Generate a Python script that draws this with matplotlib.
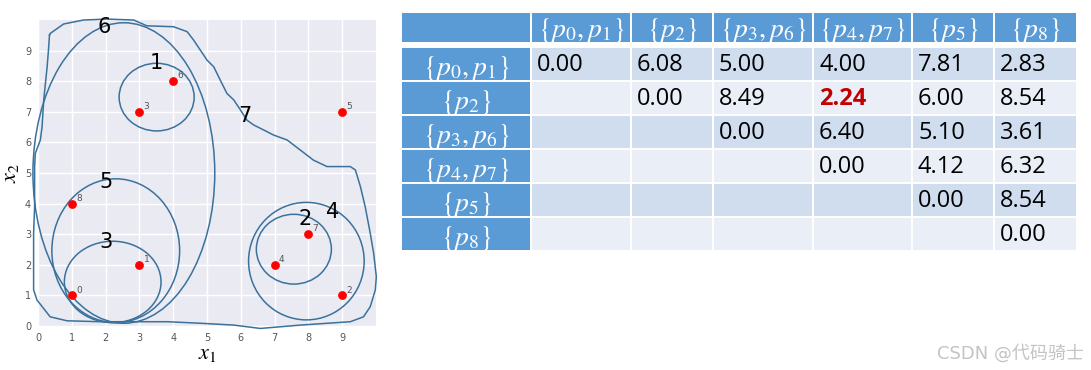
import matplotlib
matplotlib.use("Agg")
import matplotlib.pyplot as plt
from matplotlib.patches import Ellipse, Rectangle

# ---------------- data ----------------
pt_x = [1, 3, 9, 3, 7, 9, 4, 8, 1]
pt_y = [1, 2, 1, 7, 2, 7, 8, 3, 4]
pt_ids = ["0", "1", "2", "3", "4", "5", "6", "7", "8"]

# hand-drawn cluster ellipses: (label, cx, cy, width, height)
ell_names = ["1", "2", "3", "4", "5", "6"]
ell_cx = [3.51, 7.57, 2.21, 7.94, 2.30, 2.54]
ell_cy = [7.48, 2.51, 1.44, 2.12, 2.46, 5.00]
ell_w = [2.22, 2.22, 2.86, 3.42, 3.78, 5.38]
ell_h = [2.21, 2.28, 2.66, 3.84, 4.70, 9.82]
ell_lab_x = [3.49, 7.91, 2.02, 8.73, 2.02, 1.97]
ell_lab_y = [8.58, 3.50, 2.73, 3.72, 4.71, 9.76]

# freeform outline of cluster 7
c7_x = [0.34, 0.36, 0.76, 1.35, 2.04, 2.83, 3.22, 4.01, 4.41, 4.60, 4.80, 5.00,
        5.20, 5.39, 5.59, 5.79, 5.99, 6.18, 6.38, 6.67, 6.97, 7.37, 7.76, 8.15,
        8.55, 8.94, 9.24, 9.39, 9.54, 9.68, 9.83, 9.93, 10.01, 9.98, 9.83, 9.63,
        9.24, 7.76, 6.58, 5.79, 4.80, 3.82, 2.83, 1.84, 0.86, 0.36, -0.03, -0.13,
        -0.13, -0.10, -0.10, -0.08, 0.07, 0.12, 0.17, 0.27, 0.31, 0.34]
c7_y = [9.51, 9.56, 9.87, 10.00, 10.03, 10.00, 9.81, 9.78, 9.62, 9.35, 9.02, 8.69,
        8.47, 8.04, 7.60, 7.39, 7.06, 6.73, 6.57, 6.41, 6.24, 6.08, 5.75, 5.42,
        5.21, 5.21, 5.21, 5.10, 4.55, 3.90, 3.03, 2.38, 1.61, 1.18, 0.63, 0.30,
        0.14, 0.03, -0.08, 0.03, 0.09, 0.14, 0.14, 0.14, 0.17, 0.30, 0.85, 1.18,
        3.03, 3.90, 5.21, 5.64, 6.08, 6.51, 7.39, 8.47, 9.02, 9.51]
c7_label = "7"
c7_lab_x, c7_lab_y = 6.11, 6.87

# distance table
table_labels = [r"$\{p_0,p_1\}$", r"$\{p_2\}$", r"$\{p_3,p_6\}$",
                r"$\{p_4,p_7\}$", r"$\{p_5\}$", r"$\{p_8\}$"]
dist = [
    [0.00, 6.08, 5.00, 4.00, 7.81, 2.83],
    [None, 0.00, 8.49, 2.24, 6.00, 8.54],
    [None, None, 0.00, 6.40, 5.10, 3.61],
    [None, None, None, 0.00, 4.12, 6.32],
    [None, None, None, None, 0.00, 8.54],
    [None, None, None, None, None, 0.00],
]
highlight = (1, 3)

# ---------------- style ----------------
W, H = 1091, 370
plt.rcParams["mathtext.fontset"] = "stix"
fig = plt.figure(figsize=(W / 100, H / 100), dpi=100)
fig.patch.set_facecolor("white")

line_col = "#3a729c"

# ---------------- scatter panel ----------------
ax = fig.add_axes([38 / W, 1 - 326 / H, 338 / W, 306 / H])
ax.set_facecolor("#EAEAF2")
ax.set_xlim(0, 10)
ax.set_ylim(0, 10)
ax.set_xticks(range(10))
ax.set_yticks(range(10))
ax.grid(True, color="white", linewidth=1.0)
ax.set_axisbelow(True)
for s in ax.spines.values():
    s.set_visible(False)
ax.tick_params(length=0, labelsize=7, labelcolor="#555555", pad=5)
ax.set_xlabel(r"$x_1$", fontsize=16, labelpad=1)
ax.set_ylabel(r"$x_2$", fontsize=16, labelpad=3)

for i in range(len(ell_names)):
    e = Ellipse((ell_cx[i], ell_cy[i]), ell_w[i], ell_h[i], fill=False,
                edgecolor=line_col, linewidth=1.1, clip_on=False, zorder=3)
    ax.add_patch(e)
    ax.text(ell_lab_x[i], ell_lab_y[i], ell_names[i], fontsize=15,
            ha="center", va="center", color="black", zorder=5)

ax.plot(c7_x, c7_y, color=line_col, linewidth=1.1, clip_on=False, zorder=3)
ax.text(c7_lab_x, c7_lab_y, c7_label, fontsize=15, ha="center", va="center",
        color="black", zorder=5)

ax.scatter(pt_x, pt_y, s=28, color="red", zorder=6, clip_on=False)
for x, y, t in zip(pt_x, pt_y, pt_ids):
    ax.annotate(t, (x, y), xytext=(3, 2), textcoords="offset points",
                fontsize=6.5, color="#555555", zorder=7)

# ---------------- table panel ----------------
col_w = [130, 100, 82, 100, 99, 82, 83]
head_h = 31.3
row_h = 34.0
head_gap = 4.0
tot_w = sum(col_w)
tot_h = head_h + head_gap + row_h * len(dist)

tx0, ty0 = 401, 12
tax = fig.add_axes([tx0 / W, 1 - (ty0 + tot_h) / H, tot_w / W, tot_h / H])
tax.set_xlim(0, tot_w)
tax.set_ylim(tot_h, 0)
tax.axis("off")

hdr_col = "#5B9BD5"
row_cols = ["#CFDDEE", "#E9EEF7"]
edge_lw = 1.4

col_x = [sum(col_w[:i]) for i in range(len(col_w))]

# header row
for j in range(len(col_w)):
    tax.add_patch(Rectangle((col_x[j], 0), col_w[j], head_h, facecolor=hdr_col,
                            edgecolor="white", linewidth=edge_lw))
    if j > 0:
        tax.text(col_x[j] + col_w[j] / 2, head_h + 2, table_labels[j - 1],
                 fontsize=20, color="white", ha="center", va="bottom",
                 clip_on=True)

# body rows
for i, row in enumerate(dist):
    y0 = head_h + head_gap + i * row_h
    tax.add_patch(Rectangle((0, y0), col_w[0], row_h, facecolor=hdr_col,
                            edgecolor="white", linewidth=edge_lw))
    tax.text(col_w[0] / 2, y0 + row_h + 1.5, table_labels[i], fontsize=20,
             color="white", ha="center", va="bottom", clip_on=True)
    for j, v in enumerate(row):
        x0 = col_x[j + 1]
        tax.add_patch(Rectangle((x0, y0), col_w[j + 1], row_h,
                                facecolor=row_cols[i % 2], edgecolor="white",
                                linewidth=edge_lw))
        if v is not None:
            hl = (i, j) == highlight
            tax.text(x0 + 6, y0 + row_h / 2 + 1, f"{v:.2f}", fontsize=17,
                     family="Open Sans", ha="left", va="center",
                     color="#C00000" if hl else "black",
                     fontweight="bold" if hl else "normal")

# watermark
fig.text(1084 / W, 1 - 353 / H, "CSDN @代码骑士", fontsize=13,
         family=["DejaVu Sans", "Noto Sans CJK SC"], color="#c4c4c4",
         ha="right", va="center")

fig.savefig("out.png", dpi=100)
